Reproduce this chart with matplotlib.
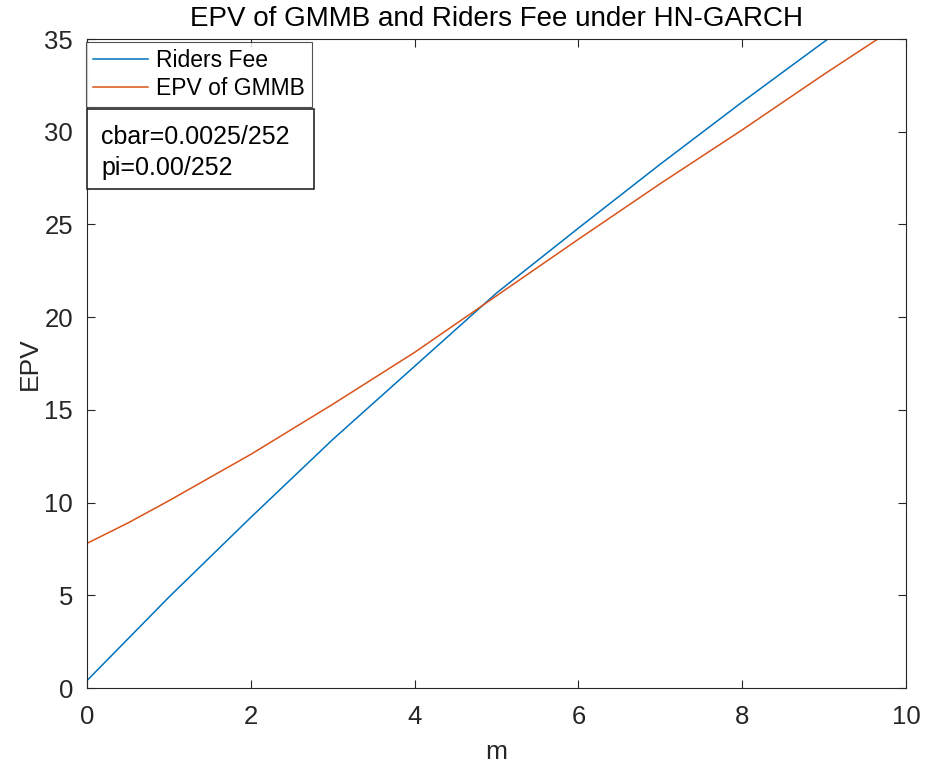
import matplotlib
matplotlib.use("Agg")
import matplotlib.pyplot as plt
from matplotlib.patches import Rectangle

m = [0, 0.5, 1, 1.5, 2, 3, 4, 5, 6, 7, 8, 9, 10]
riders_fee = [0.4, 2.65, 4.9, 7.05, 9.2, 13.4, 17.35, 21.3, 24.8, 28.25, 31.6, 34.85, 38.0]
epv_gmmb = [7.8, 8.9, 10.1, 11.35, 12.6, 15.3, 18.1, 21.15, 24.2, 27.2, 30.1, 33.1, 36.0]

FONT = ["Liberation Sans", "DejaVu Sans"]
plt.rcParams["font.family"] = FONT

W, H = 927, 772
fig = plt.figure(figsize=(W / 100, H / 100), dpi=100)
L, R, T, B = 87, 906, 39, 688
ax = fig.add_axes([L / W, 1 - B / H, (R - L) / W, (B - T) / H])

ax.plot(m, riders_fee, color="#0072BD", lw=1.1, label="Riders Fee")
ax.plot(m, epv_gmmb, color="#D95319", lw=1.1, label="EPV of GMMB")

ax.set_xlim(0, 10)
ax.set_ylim(0, 35)
ax.set_xticks([0, 2, 4, 6, 8, 10])
ax.set_yticks([0, 5, 10, 15, 20, 25, 30, 35])
ax.tick_params(direction="in", length=6, width=0.8, top=True, right=True,
               labelsize=18.5, colors="#262626")
ax.tick_params(axis="x", pad=12)
ax.tick_params(axis="y", pad=10)
for s in ax.spines.values():
    s.set_color("#262626")
    s.set_linewidth(0.8)

ax.set_title("EPV of GMMB and Riders Fee under HN-GARCH", fontsize=20, color="#000000", pad=9)
ax.set_xlabel("m", fontsize=19, color="#262626", labelpad=8)
ax.set_ylabel("EPV", fontsize=19, color="#262626", labelpad=2)

leg = ax.legend(loc="upper left", bbox_to_anchor=(86 / W, 1 - 42 / H),
                bbox_transform=fig.transFigure, borderaxespad=0, fontsize=16.5,
                frameon=True, fancybox=False, handlelength=2.4, handletextpad=0.35,
                borderpad=0.3, labelspacing=0.22)
leg.get_frame().set_edgecolor("#262626")
leg.get_frame().set_linewidth(0.8)

rect = Rectangle((87 / W, 1 - 189 / H), 227 / W, 80 / H, transform=fig.transFigure,
                 facecolor="white", edgecolor="#262626", linewidth=1.2, zorder=10)
fig.patches.append(rect)
fig.text(101 / W, 1 - 137 / H, "cbar=0.0025/252", fontsize=18, va="center", ha="left", zorder=11)
fig.text(101 / W, 1 - 168 / H, "pi=0.00/252", fontsize=18, va="center", ha="left", zorder=11)

fig.savefig("out.png", dpi=100)
